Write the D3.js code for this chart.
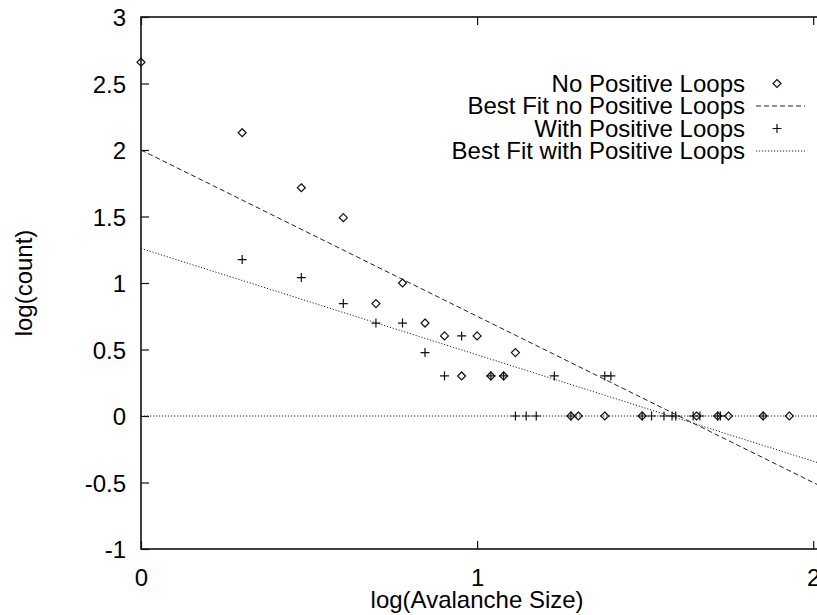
<!DOCTYPE html>
<html><head><meta charset="utf-8">
<script src="https://cdn.jsdelivr.net/npm/d3@7"></script>
<style>
html,body{margin:0;padding:0;background:#fff;}
svg{display:block;font-family:"Liberation Sans",Arial,Helvetica,sans-serif;}
</style></head>
<body><svg id="c" width="817" height="615"></svg>
<script>
// ---- data ----
const noLoopsX = [0, 0.301, 0.477, 0.602, 0.699, 0.778, 0.845, 0.903, 0.954, 1.0, 1.041, 1.079, 1.114,
                  1.279, 1.301, 1.380, 1.491, 1.653, 1.716, 1.748, 1.851, 1.929];
const noLoopsY = [2.66, 2.13, 1.716, 1.491, 0.845, 1.0, 0.699, 0.602, 0.301, 0.602, 0.301, 0.301, 0.477,
                  0, 0, 0, 0, 0, 0, 0, 0, 0];
const withLoopsX = [0.301, 0.477, 0.602, 0.699, 0.778, 0.845, 0.903, 0.954, 1.041, 1.079, 1.230, 1.380, 1.398,
                    1.114, 1.146, 1.176, 1.279, 1.491, 1.519, 1.556, 1.580, 1.591, 1.643, 1.663, 1.716, 1.724, 1.851];
const withLoopsY = [1.176, 1.041, 0.845, 0.699, 0.699, 0.477, 0.301, 0.602, 0.301, 0.301, 0.301, 0.301, 0.301,
                    0, 0, 0, 0, 0, 0, 0, 0, 0, 0, 0, 0, 0, 0];
const fitNoLoops = [[0, 2.0], [2.05, -0.5625]];
const fitWithLoops = [[0, 1.26], [2.05, -0.38]];
const zeroAxis = [[0, 0], [2.05, 0]];
const xTicks = [0, 1, 2];
const yTicks = [-1, -0.5, 0, 0.5, 1, 1.5, 2, 2.5, 3];
const yTickLabels = ["-1", "-0.5", "0", "0.5", "1", "1.5", "2", "2.5", "3"];
const legendLabels = ["No Positive Loops", "Best Fit no Positive Loops", "With Positive Loops", "Best Fit with Positive Loops"];
const xTitle = "log(Avalanche Size)";
const yTitle = "log(count)";

// ---- drawing ----
const svg = d3.select("#c");
const L = 141, T = 17, B = 549, R = 830;
const x = d3.scaleLinear().domain([0, 2.05]).range([L, R]);
const y = d3.scaleLinear().domain([-1, 3]).range([B, T]);
const FS = 24;
const ink = "#111";

const plot = svg.append("g");

// zero axis
const line = d3.line().x(d => x(d[0])).y(d => y(d[1]));
plot.append("path").attr("d", line(zeroAxis)).attr("fill", "none")
  .attr("stroke", "#222").attr("stroke-width", 1).attr("stroke-dasharray", "1.2,1.8");

// fit lines
plot.append("path").attr("d", line(fitNoLoops)).attr("fill", "none")
  .attr("stroke", "#222").attr("stroke-width", 1).attr("stroke-dasharray", "5,3");
plot.append("path").attr("d", line(fitWithLoops)).attr("fill", "none")
  .attr("stroke", "#222").attr("stroke-width", 1).attr("stroke-dasharray", "1.2,1.8");

// markers
function diamondPath(cx, cy, r) {
  return `M${cx},${cy - r}L${cx + r},${cy}L${cx},${cy + r}L${cx - r},${cy}Z`;
}
function plusPath(cx, cy, r) {
  return `M${cx - r},${cy}L${cx + r},${cy}M${cx},${cy - r}L${cx},${cy + r}`;
}
const noLoops = noLoopsX.map((v, i) => [v, noLoopsY[i]]);
const withLoops = withLoopsX.map((v, i) => [v, withLoopsY[i]]);

plot.selectAll("path.dia").data(noLoops).enter().append("path").attr("class", "dia")
  .attr("d", d => diamondPath(x(d[0]), y(d[1]), 4))
  .attr("fill", "none").attr("stroke", ink).attr("stroke-width", 1.2);
plot.selectAll("path.plus").data(withLoops).enter().append("path").attr("class", "plus")
  .attr("d", d => plusPath(x(d[0]), y(d[1]), 4.5))
  .attr("fill", "none").attr("stroke", ink).attr("stroke-width", 1.2);

// frame
svg.append("rect").attr("x", L).attr("y", T).attr("width", R - L).attr("height", B - T)
  .attr("fill", "none").attr("stroke", ink).attr("stroke-width", 1.6);

// y axis
const yAx = d3.axisLeft(y).tickValues(yTicks).tickSize(-8).tickPadding(15)
  .tickFormat((d, i) => yTickLabels[i]);
const gy = svg.append("g").attr("transform", `translate(${L},0)`).call(yAx);
gy.select(".domain").remove();
gy.selectAll("line").attr("stroke", ink).attr("stroke-width", 1.2);
gy.selectAll("text").attr("font-size", FS).attr("fill", "#000")
  .attr("font-family", "Liberation Sans, Arial, sans-serif").attr("dy", "0.36em");

// x axis
const xAx = d3.axisBottom(x).tickValues(xTicks).tickSize(-8).tickPadding(20)
  .tickFormat(d => String(d));
const gx = svg.append("g").attr("transform", `translate(0,${B})`).call(xAx);
gx.select(".domain").remove();
gx.selectAll("line").attr("stroke", ink).attr("stroke-width", 1.2);
gx.selectAll("text").attr("font-size", FS).attr("fill", "#000")
  .attr("font-family", "Liberation Sans, Arial, sans-serif");
// top mirrored ticks
const xAxTop = d3.axisTop(x).tickValues(xTicks).tickSize(-8).tickFormat("");
const gxt = svg.append("g").attr("transform", `translate(0,${T})`).call(xAxTop);
gxt.select(".domain").remove();
gxt.selectAll("line").attr("stroke", ink).attr("stroke-width", 1.2);

// titles
svg.append("text").attr("x", x(1)).attr("y", 608).attr("text-anchor", "middle")
  .attr("font-size", FS).text(xTitle);
svg.append("text").attr("transform", "translate(32,283) rotate(-90)").attr("text-anchor", "middle")
  .attr("font-size", FS).text(yTitle);

// legend
const lg = svg.append("g");
const rowY = [83.5, 106, 128.5, 151];
legendLabels.forEach((lab, i) => {
  lg.append("text").attr("x", 745).attr("y", rowY[i]).attr("dy", "0.35em")
    .attr("text-anchor", "end").attr("font-size", FS).text(lab);
});
lg.append("path").attr("d", diamondPath(777, rowY[0], 4)).attr("fill", "none").attr("stroke", ink).attr("stroke-width", 1.2);
lg.append("line").attr("x1", 756).attr("x2", 805).attr("y1", rowY[1]).attr("y2", rowY[1])
  .attr("stroke", "#222").attr("stroke-dasharray", "5,3");
lg.append("path").attr("d", plusPath(777, rowY[2], 4.5)).attr("fill", "none").attr("stroke", ink).attr("stroke-width", 1.2);
lg.append("line").attr("x1", 756).attr("x2", 805).attr("y1", rowY[3]).attr("y2", rowY[3])
  .attr("stroke", "#222").attr("stroke-dasharray", "1.2,1.8");
</script></body></html>
